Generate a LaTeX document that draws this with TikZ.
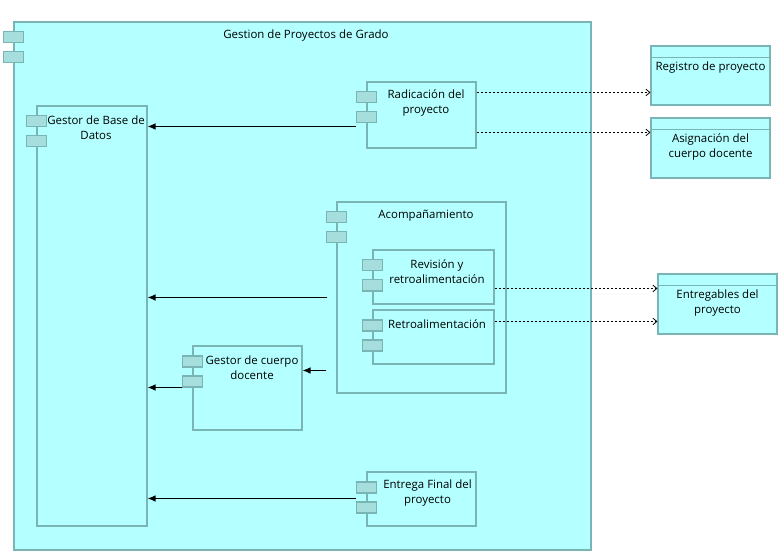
\documentclass[tikz,border=0pt]{standalone}
\usepackage{fontspec}
\setmainfont{Open Sans}
\usepackage{xcolor}
\usepackage{tikz}
\usetikzlibrary{positioning,fit,calc,arrows.meta}
\definecolor{fondo}{HTML}{B4FFFF}
\definecolor{borde}{HTML}{7AB5B5}
\definecolor{puerto}{HTML}{A6DEDE}

\begin{document}
\begin{tikzpicture}[x=0.75pt,y=-0.75pt,
  comp/.style={draw=borde,fill=fondo,inner sep=0pt,line width=0.8pt},
  port/.style={draw=borde,fill=puerto,inner sep=0pt,minimum width=15pt,minimum height=8.25pt,line width=0.8pt},
  txt/.style={align=center,inner sep=0pt,font=\fontsize{8.6}{11.25}\selectfont},
  flujo/.style={-{Latex[length=6pt,width=5pt]},line width=0.9pt},
  dep/.style={-{Straight Barb[length=3pt,width=5pt]},dash pattern=on 2pt off 1pt,line width=0.6pt}]
   \useasboundingbox (0,0) rectangle (784,559);
   % componentes
   \node[comp, fit={(14,22) (591,550)}] (gp) {};
   \node[comp, fit={(37,106) (147,526)}] (bd) {};
   \node[comp, fit={(367,82) (476,148)}] (rad) {};
   \node[comp, fit={(337,202) (506,393)}] (aco) {};
   \node[comp, fit={(373,250) (494,304)}] (rev) {};
   \node[comp, fit={(373,310) (494,364)}] (ret) {};
   \node[comp, fit={(193,346) (302,430)}] (doc) {};
   \node[comp, fit={(367,472) (476,526)}] (ent) {};
   \node[comp, fit={(651,46) (770,105)}] (reg) {};
   \node[comp, fit={(651,118) (770,178)}] (asi) {};
   \node[comp, fit={(658,274) (777,334)}] (eg) {};
   \foreach \n in {reg,asi,eg}
     \draw[borde,line width=0.8pt] ($(\n.north west)+(0,12)$) -- ($(\n.north east)+(0,12)$);
   \foreach \n in {gp,bd,rad,aco,rev,ret,doc,ent} {
     \node[port] at ($(\n.north west)+(0,16)$) {};
     \node[port] at ($(\n.north west)+(0,36)$) {};
   }
   % textos
   \node[txt] at ($(gp.north)+(3.5,14.5)$) {Gestion de Proyectos de Grado};
   \node[txt] at ($(bd.north)+(4,22)$) {Gestor de Base de\\Datos};
   \node[txt] at ($(rad.north)+(4.5,22)$) {Radicación del\\proyecto};
   \node[txt] at ($(aco.north)+(4.5,14.5)$) {Acompañamiento};
   \node[txt] at ($(rev.north)+(3.5,22)$) {Revisión y\\retroalimentación};
   \node[txt] at ($(ret.north)+(3.5,14.5)$) {Retroalimentación};
   \node[txt] at ($(doc.north)+(4.5,22)$) {Gestor de cuerpo\\docente};
   \node[txt] at ($(ent.north)+(6,22)$) {Entrega Final del\\proyecto};
   \node[txt] at ($(reg.north)+(0,22.5)$) {Registro de proyecto};
   \node[txt] at ($(asi.north)+(0,30)$) {Asignación del\\cuerpo docente};
   \node[txt] at ($(eg.north)+(0,30)$) {Entregables del\\proyecto};
   % conectores
   \coordinate (r1) at ($(rad.north west)+(-10,45)$);
   \coordinate (a1) at ($(aco.north west)+(-9,96)$);
   \coordinate (a2) at ($(aco.north west)+(-10,169)$);
   \coordinate (d1) at ($(doc.north west)+(-10,42)$);
   \coordinate (e1) at ($(ent.north west)+(-10,27)$);
   \draw[flujo] (r1) -- (r1 -| bd.east);
   \draw[flujo] (a1) -- (a1 -| bd.east);
   \draw[flujo] (a2) -- (a2 -| doc.east);
   \draw[flujo] (d1) -- (d1 -| bd.east);
   \draw[flujo] (e1) -- (e1 -| bd.east);
   \coordinate (r2) at ($(rad.north east)+(0,11)$);
   \coordinate (r3) at ($(rad.north east)+(0,51)$);
   \coordinate (v1) at ($(rev.north east)+(0,39)$);
   \coordinate (t1) at ($(ret.north east)+(0,12)$);
   \draw[dep] (r2) -- (r2 -| reg.west);
   \draw[dep] (r3) -- (r3 -| asi.west);
   \draw[dep] (v1) -- (v1 -| eg.west);
   \draw[dep] (t1) -- (t1 -| eg.west);
\end{tikzpicture}
\end{document}
